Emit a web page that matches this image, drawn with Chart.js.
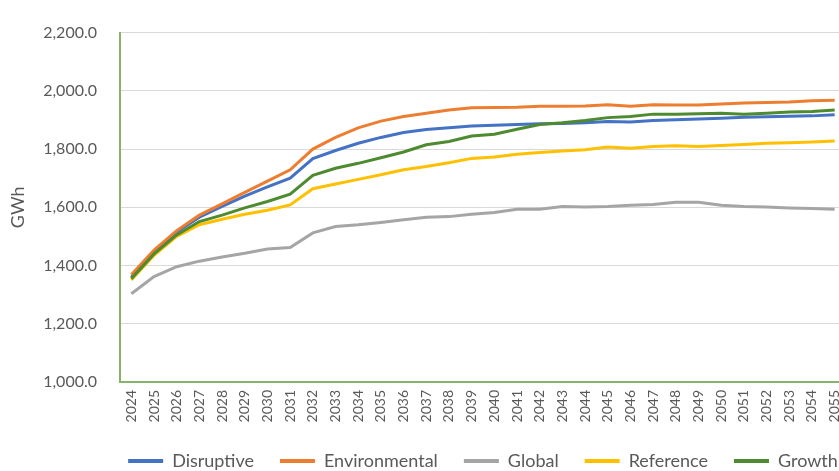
<!DOCTYPE html>
<html>
<head>
<meta charset="utf-8">
<script src="https://cdn.jsdelivr.net/npm/chart.js@4/dist/chart.umd.min.js"></script>
<style>
  html, body { margin: 0; padding: 0; background: #ffffff; overflow: hidden; }
  #wrap { width: 970px; height: 480px; position: relative; }
</style>
</head>
<body>
<div id="wrap"><canvas id="chart"></canvas></div>
<script>
// Annual electricity demand by scenario, GWh
const years = [
  '2024','2025','2026','2027','2028','2029','2030','2031','2032','2033','2034',
  '2035','2036','2037','2038','2039','2040','2041','2042','2043','2044','2045',
  '2046','2047','2048','2049','2050','2051','2052','2053','2054','2055'
];

const disruptive = [
  1360, 1448, 1515, 1566, 1603, 1638, 1670, 1700, 1767, 1795, 1820,
  1840, 1857, 1867, 1873, 1879, 1882, 1884, 1887, 1888, 1890, 1895,
  1893, 1898, 1901, 1903, 1906, 1909, 1911, 1913, 1914, 1918
];

const environmental = [
  1368, 1453, 1520, 1573, 1612, 1651, 1690, 1729, 1800, 1840, 1873,
  1896, 1912, 1923, 1934, 1942, 1943, 1944, 1947, 1947, 1948, 1952,
  1947, 1952, 1951, 1951, 1955, 1958, 1960, 1962, 1966, 1968
];

const globalScn = [
  1303, 1362, 1396, 1415, 1429, 1442, 1457, 1462, 1512, 1534, 1540,
  1548, 1557, 1566, 1568, 1576, 1582, 1593, 1593, 1603, 1601, 1603,
  1607, 1610, 1617, 1617, 1607, 1603, 1601, 1598, 1596, 1593
];

const reference = [
  1350, 1435, 1500, 1540, 1559, 1576, 1590, 1608, 1664, 1680, 1696,
  1712, 1729, 1740, 1753, 1768, 1773, 1782, 1788, 1793, 1798, 1807,
  1803, 1809, 1811, 1809, 1812, 1816, 1820, 1822, 1824, 1828
];

const growth = [
  1355, 1440, 1505, 1551, 1573, 1598, 1620, 1645, 1710, 1734, 1751,
  1770, 1790, 1815, 1826, 1845, 1851, 1868, 1884, 1890, 1898, 1908,
  1912, 1920, 1920, 1921, 1923, 1920, 1923, 1927, 1929, 1934
];

const yMin = 1000;
const yMax = 2200;
const yStep = 200;

const FONT = 'Lato, "Open Sans", sans-serif';
const AXIS_GREEN = '#86b36a';

function series(label, data, color, order) {
  return {
    label, data,
    borderColor: color,
    backgroundColor: color,
    borderWidth: 3,
    pointRadius: 0,
    pointHoverRadius: 0,
    tension: 0,
    fill: false,
    order
  };
}

new Chart(document.getElementById('chart'), {
  type: 'line',
  data: {
    labels: years,
    datasets: [
      series('Disruptive', disruptive, '#4472c4', 5),
      series('Environmental', environmental, '#ed7d31', 4),
      series('Global', globalScn, '#a5a5a5', 3),
      series('Reference', reference, '#ffc000', 2),
      series('Growth', growth, '#4e8a2f', 1)
    ]
  },
  options: {
    responsive: true,
    maintainAspectRatio: false,
    animation: false,
    layout: { padding: { top: 22, right: 4, left: 0, bottom: 0 } },
    plugins: {
      tooltip: { enabled: false },
      legend: {
        position: 'bottom',
        labels: {
          font: { family: FONT, size: 18 },
          color: '#595959',
          boxWidth: 35,
          boxHeight: 4,
          padding: 26,
          sort: (a, b) => a.datasetIndex - b.datasetIndex,
          generateLabels(chart) {
            const items = Chart.defaults.plugins.legend.labels.generateLabels(chart);
            items.forEach(it => { it.lineWidth = 0; it.fillStyle = it.strokeStyle; });
            return items;
          }
        }
      }
    },
    scales: {
      x: {
        offset: true,
        grid: { display: false, drawTicks: false },
        border: { display: true, color: AXIS_GREEN, width: 2 },
        ticks: {
          autoSkip: false,
          minRotation: 90,
          maxRotation: 90,
          padding: 8,
          color: '#595959',
          font: { family: FONT, size: 14 }
        },
        afterFit(scale) { scale.height = 44; }
      },
      y: {
        min: yMin,
        max: yMax,
        grid: { color: '#d9d9d9', lineWidth: 1, drawTicks: false },
        border: { display: true, color: AXIS_GREEN, width: 2 },
        ticks: {
          stepSize: yStep,
          padding: 23,
          color: '#595959',
          font: { family: FONT, size: 16 },
          callback: v => v.toLocaleString('en-US', { minimumFractionDigits: 1, maximumFractionDigits: 1 })
        },
        title: {
          display: true,
          text: 'GWh',
          color: '#595959',
          font: { family: FONT, size: 18 },
          padding: { top: 7, bottom: 0 }
        },
        afterFit(scale) { scale.width = 120; }
      },
      // empty right-hand margin so the legend is centred on the full figure width
      margin: {
        type: 'linear',
        position: 'right',
        min: yMin,
        max: yMax,
        grid: { display: false, drawTicks: false },
        border: { display: false },
        ticks: { display: false },
        afterFit(scale) { scale.width = 120; }
      }
    }
  }
});
</script>
</body>
</html>
